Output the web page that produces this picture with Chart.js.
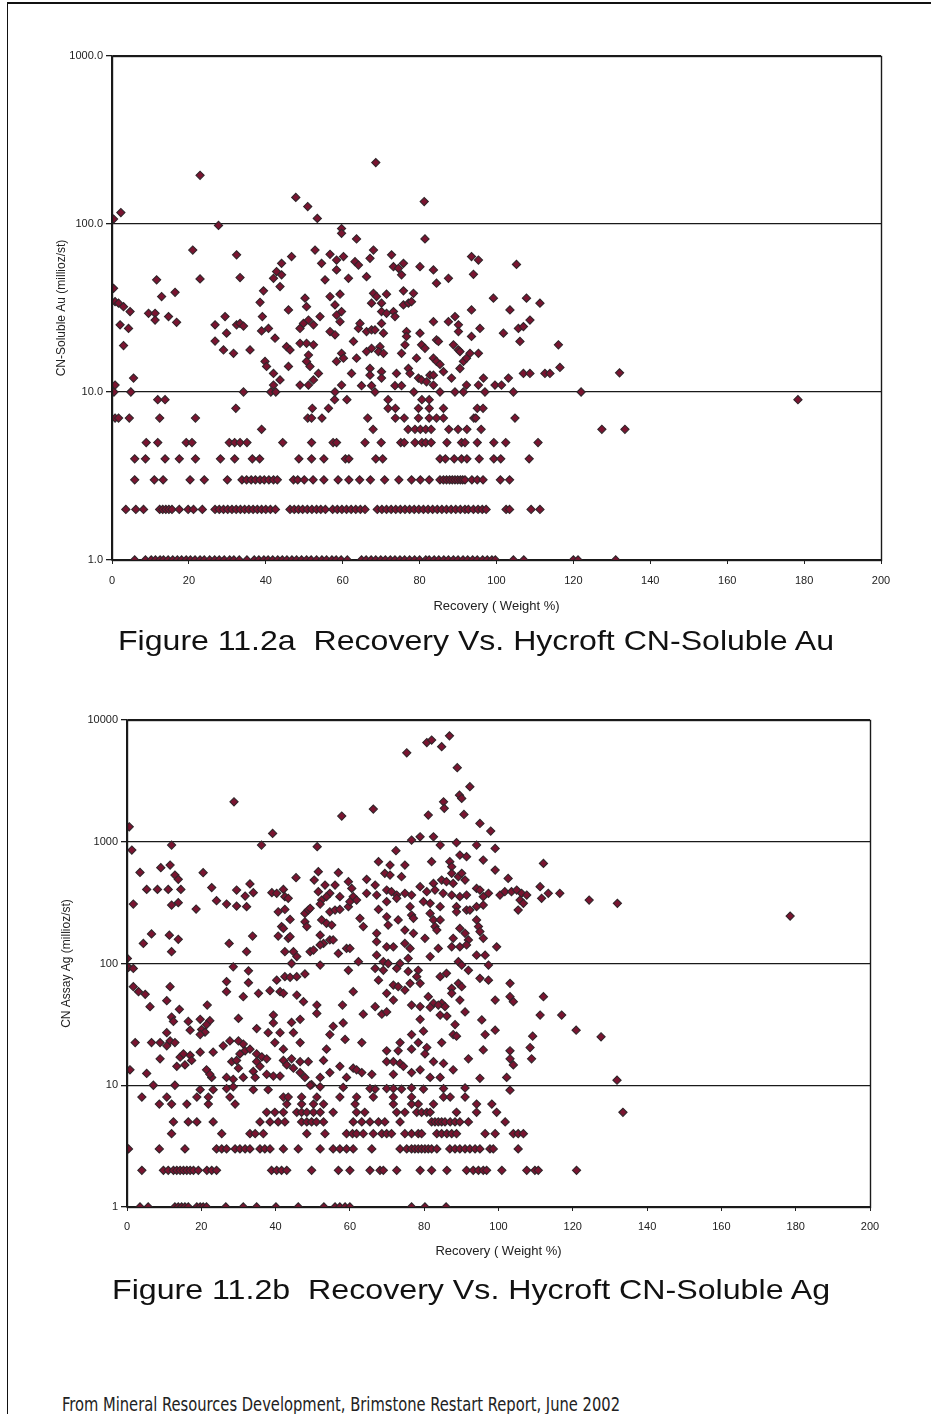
<!DOCTYPE html>
<html>
<head>
<meta charset="utf-8">
<script src="https://cdn.jsdelivr.net/npm/chart.js@4.4.0/dist/chart.umd.min.js"></script>
<style>
  html, body { margin: 0; padding: 0; background: #fff; }
  body { width: 931px; height: 1414px; position: relative; overflow: hidden; }
  .frame-top { position: absolute; left: 8px; top: 2px; width: 923px; height: 2px; background: #111; }
  .frame-left { position: absolute; left: 7px; top: 2px; width: 1px; height: 1412px; background: #111; }
  canvas { position: absolute; }
  .fit { position: absolute; white-space: nowrap; transform-origin: 0 50%; color: #111; line-height: 1; }
  .caption { font-family: "Liberation Sans", Arial, sans-serif; font-size: 28px; }
  .source { font-family: "Liberation Sans Narrow", "DejaVu Sans Condensed", "Liberation Sans", sans-serif; font-size: 19px; color: #222; }
</style>
</head>
<body>
<div class="frame-top"></div>
<div class="frame-left"></div>

<canvas id="auChart" width="931" height="600" style="left:0;top:30px"></canvas>
<canvas id="agChart" width="931" height="575" style="left:0;top:700px"></canvas>

<div class="fit caption" data-left="118" data-width="716" data-mid="641">Figure 11.2a&nbsp; Recovery Vs. Hycroft CN-Soluble Au</div>
<div class="fit caption" data-left="112" data-width="718" data-mid="1290">Figure 11.2b&nbsp; Recovery Vs. Hycroft CN-Soluble Ag</div>
<div class="fit source" data-left="62" data-width="558" data-mid="1404">From Mineral Resources Development, Brimstone Restart Report, June 2002</div>

<script>
// ---------- Figure 11.2a : CN-soluble Au (millioz/st) vs recovery (weight %) ----------
// Assays reported at whole-number grades fall on horizontal rows.
const auGrades = [1, 2, 3, 4, 5, 6, 7, 8, 9, 10];
const auRecoveryAtGrade = [
  // 1
  [5.9, 8.7, 10.2, 11.3, 12.5, 13.4, 14.6, 15.8, 17, 18.1, 19.3, 20.4, 21.6, 22.9, 24, 25.4, 26.7, 27.9, 29.2, 30.6, 31.7, 33.1, 35.1, 37, 38.2, 39.5, 40.6, 41.8, 43.1, 44.3, 45.5, 46.8, 48, 49.3, 50.6, 51.8, 53.2, 54.6, 55.8, 57.2, 58.3, 59.6, 61.2, 64.9, 66.1, 67.4, 68.6, 69.9, 71.1, 72.4, 73.6, 74.9, 76.1, 77.4, 78.7, 80, 81.6, 82.5, 83.8, 85, 86.3, 87.5, 88.8, 90, 91.3, 92.5, 93.8, 95, 96.4, 97.6, 98.8, 99.7, 104.4, 107.1, 120, 121.2, 131],
  // 2
  [3.6, 6.2, 8.2, 12.4, 13.2, 14, 14.8, 15.6, 17.5, 19.8, 21.2, 23.5, 26.8, 27.9, 29, 30.1, 31.2, 32.3, 33.4, 34.5, 35.6, 36.7, 37.8, 38.9, 40, 41.2, 42.5, 46.3, 47.4, 48.5, 49.6, 50.8, 52, 53.2, 54.3, 55.5, 57.4, 58.6, 59.8, 61, 62.2, 63.4, 64.6, 65.8, 69, 70.2, 71.4, 72.6, 73.8, 75, 76.2, 77.4, 78.6, 79.8, 81, 82.2, 83.4, 84.6, 85.8, 87, 88.2, 89.4, 90.6, 91.8, 92.7, 94, 95.2, 96.3, 97.3, 102.5, 103.4, 109, 111.3],
  // 3
  [5.9, 11, 13.3, 20.3, 24, 30, 33.8, 35, 36.2, 37.3, 38.5, 39.6, 40.8, 42, 43, 47.2, 48.3, 50, 52.3, 55.1, 58.8, 61.6, 64.4, 67.2, 70.9, 74.6, 77.9, 80.2, 82.5, 85.3, 86.2, 87, 87.8, 88.5, 89.2, 89.9, 90.6, 91.2, 91.8, 93.6, 95, 96.5, 101, 103.4],
  // 4
  [5.9, 8.7, 13.8, 17.5, 21.7, 28.2, 31.9, 36.5, 38.4, 48.6, 51.9, 55.1, 60.7, 61.6, 68.6, 70.4, 85.3, 86.7, 89, 90.9, 92.3, 95.5, 99.3, 101.1, 108.5],
  // 5
  [8.9, 11.9, 19.3, 20.8, 30.5, 31.9, 33.3, 35.1, 44.4, 51.9, 57.5, 58.4, 65.8, 70, 75.1, 76, 78.8, 80.6, 81.6, 83, 87.1, 90.9, 91.8, 95, 99.3, 102.4, 110.8],
  // 6
  [38.9, 67.9, 77, 78.8, 80.2, 81.6, 83, 87.6, 90, 92.3, 96, 127.4, 133.4],
  // 7
  [0.8, 1.7, 4.5, 12.4, 21.7, 50.9, 51.9, 54.6, 66.5, 73.7, 76, 79.7, 82.5, 84.4, 86.2, 94.1, 94.6, 104.8],
  // 8
  [32.2, 52.1, 56.3, 71.8, 73.7, 79.7, 82.5, 86.2, 95, 96.5],
  // 9
  [11.9, 13.8, 57.9, 61.1, 71.8, 80.6, 82.5, 178.4],
  // 10
  [0.5, 4.9, 34.2, 41.3, 42.6, 58, 68.4, 78.5, 85.3, 89.2, 91.4, 97, 104.4, 122]
];
// Remaining Au samples as [recovery %, Au millioz/st]
const auScatter = [
  [2.3,117],[22.9,195],[47.8,144],[50.9,127],[53.4,108],[68.6,232],[81.2,136],
  [0.4,107],[27.7,98],[59.7,94],[59.7,88],[63.6,81.5],[81.4,81.5],[21,70],[32.4,65.5],[46.7,64],[44.1,58.3],[52.8,70],[54.5,58.3],[56.7,66],[58.4,61],[60.2,64],[58.4,53.3],[61.5,47.5],[63.2,59.7],[64.1,57],[68,70],[67.1,62.5],[72.7,65.5],[73.2,55.7],[74.5,54.5],[75.8,58.3],[75.3,49.8],[80.1,55.7],[83.6,53.3],[84.4,44.4],[87.5,47.5],[93.5,64],[95.3,61],[94,50.2],[105.2,57.5],
  [0.4,41.4],[0.8,34.5],[1.7,33.8],[3,32.2],[4.7,30.1],[2.1,25.1],[4.3,23.9],[3,18.9],[9.5,29.4],[11.2,29.4],[11.2,26.8],[14.7,28.1],[16.8,26],[11.6,46.5],[12.9,37],[16.4,39.2],[22.9,47.1],[33.3,48],[42.8,52.1],[42,47.5],[44.1,49.8],[43.7,42.4],[39.4,40],[38.5,34.2],[39.1,28.1],[45.9,30.8],
  [26.8,25.1],[29.4,28.1],[29.8,22.4],[26.8,20.1],[29,17.8],[32.4,25.1],[33.3,25.6],[34.2,24.7],[31.6,17],[35.9,17.8],[38.9,23.1],[40.7,23.9],[42.4,20.9],[45.4,18.6],[46.3,17.8],[39.8,15.2],[40.2,14.2],[42,12.9],[43.7,11.8],[42,11],[45.9,14.2],
  [48.9,23.9],[49.8,25.6],[51.1,26.8],[52.4,25.1],[54.1,28.1],[50.2,36.2],[50.6,32.2],[48.9,19.5],[50.6,19.5],[52.4,19.1],[51.1,16.6],[50.6,15.2],[51.5,14.2],[53.7,12.9],[52.4,11.8],[51.1,11],[48.9,11],
  [55.4,46.5],[56.7,37],[59.3,38.2],[56.7,22.9],[58,21.9],[59.3,26.2],[59.7,30.1],[58,33],[58.4,28.7],[62.8,20],[64.1,23.9],[64.5,25.6],[59.7,17],[60.2,15.9],[58.4,15.2],[59.7,11],[62.3,12.9],
  [66.2,48.6],[68,38.7],[68.8,37],[71.4,38.2],[67.5,33.8],[70.1,33.8],[70.1,30.1],[73.2,30.1],[73.6,28.1],[71.4,29.4],[66.2,22.9],[67.5,23.4],[68.4,23.4],[70.1,25.6],[70.6,22.4],[66.2,17.4],[67.5,18.2],[69.7,18.6],[69.3,17.4],[70.6,17],[63.6,15.9],[67.1,13.8],[67.1,12.6],[70.1,13.2],[70.1,12.1],[64.9,10.9],[67.5,10.9],
  [75.8,40],[78.4,38.7],[75.8,33],[77.1,33.8],[77.9,34.5],[76.6,22.9],[76.6,21.4],[76.2,19.1],[75.3,17],[79.2,15.9],[80.1,22.4],[80.5,19.1],[81.4,18.2],[74,12.9],[73.6,10.9],[75.3,10.9],[77.1,13.8],[77.5,12.9],[79.7,12.1],[80.5,11.8],
  [83.6,26.2],[87.5,26.2],[90.1,25.1],[89.2,28.1],[90.1,22.9],[84.4,20.4],[84.9,20],[83.6,15.9],[84.4,15.2],[85.3,14.6],[82.7,12.6],[83.6,12.6],[81.8,11.5],[83.6,11],[88.8,19.1],[90.1,17.8],[90.5,17.4],[86.2,13.2],[88.3,12.1],[90.5,13.8],[91.4,15.2],[92.2,15.9],[93.5,21.4],[93.5,30.8],[95.7,23.9],[93.1,17],[95.3,17],[92.2,11],[95.3,11],[96.6,12.1],
  [99.2,36.2],[103.5,30.8],[107.8,36.2],[111.3,33.8],[108.7,26.8],[105.7,23.9],[107,24.5],[101.8,22.4],[106.1,20],[99.6,11],[101.3,11],[103.1,12.1],[107,12.9],[108.7,12.9],[112.6,12.9],[113.9,12.9],[116.1,19.1],[116.5,14],
  [0.8,11],[5.6,12.1],[132,13]
];
const auDecades = [1, 10, 100, 1000];

// ---------- Figure 11.2b : CN assay Ag (millioz/st) vs recovery (weight %) ----------
const agGrades = [1, 2, 3, 4, 5, 6, 7, 8];
const agRecoveryAtGrade = [
  // 1
  [3.5, 5.7, 12.9, 13.8, 14.7, 15.6, 16.5, 18.8, 19.7, 20.5, 21.4, 26.6, 31.3, 34.9, 40.1, 46.1, 53, 56, 57.3, 58.7, 60, 76.6, 80.2, 85.9],
  // 2
  [4, 9.8, 11.1, 12.5, 13.4, 14.3, 15.2, 16.1, 17, 17.9, 19.2, 21.5, 22.8, 24.1, 38.9, 40.3, 41.6, 43, 49.7, 56.9, 60, 65.4, 68.1, 69, 72.6, 78.9, 82, 86.1, 91.4, 93.2, 94.6, 95.9, 96.8, 100.9, 107.6, 109.8, 110.7, 121],
  // 3
  [0.4, 8.7, 15.6, 24.1, 25.5, 26.8, 29.1, 30.4, 31.8, 33.1, 35.8, 37.1, 38.5, 42.1, 46.1, 52, 55.5, 57.3, 59.1, 60.9, 65.9, 73.5, 75.3, 76.6, 77.5, 78.4, 79.3, 80.2, 81.1, 82, 83.4, 86.9, 88.3, 89.6, 91, 92.3, 93.7, 95, 97.7, 98.6, 105.3],
  // 4
  [12, 25.5, 33.1, 34.5, 36.7, 48.4, 53.3, 59.1, 60.7, 61.8, 63.6, 66.3, 68.6, 69.9, 71.2, 74.8, 76.6, 78.4, 79.3, 83.4, 84.7, 86.1, 87.4, 88.7, 96.4, 99.1, 104, 105.3, 106.7],
  // 5
  [12.5, 16.5, 18.8, 23.2, 35.8, 38.5, 40.7, 42.5, 47, 48.4, 49.7, 51, 52.9, 60.9, 63.2, 65.4, 67.7, 69.4, 73.5, 82, 82.9, 83.8, 84.7, 85.6, 87, 88.3, 89.6, 91.9, 101.8],
  // 6
  [37.6, 39.8, 42.1, 45.7, 47, 48.4, 50.2, 52, 55.5, 61.8, 64, 72.6, 74.8, 78, 79.3, 80.7, 81.6, 88.7, 94.1, 99.5, 133.5],
  // 7
  [8.7, 12, 16.1, 21.9, 29.1, 43, 47, 50.2, 52.9, 61.4, 71.7, 76.6, 78.4, 82.5, 94.1, 98.2],
  // 8
  [4, 10.7, 18.8, 21.9, 27.7, 42.1, 43.4, 47, 51.1, 57.3, 61.8, 66.3, 71.7, 76.6, 85.2, 87, 91]
];
// Remaining Ag samples as [recovery %, Ag millioz/st]
const agScatter = [
  [0.6,1327],[1.3,855],[28.8,2128],[39.2,1170],[36.2,940],[12,940],[57.8,1625],[66.3,1854],[51.2,910],[75.3,5380],[80.7,6530],[82,6840],[84.7,6030],[86.8,7410],[88.9,4055],[92.3,2830],[89.5,2415],[90.1,2270],[85.2,2128],[85.4,1880],[81.1,1656],[90.7,1675],[95,1413],[97.9,1224],[78.9,1099],[82.5,1099],[76.6,1033],[84.3,940],[88.7,982],[94.1,940],[99.1,881],[178.5,245],[124.4,332],[132,312],[127.6,25],[131.9,11],
  [3.5,560],[9.1,612],[11.6,644],[12.9,533],[13.8,491],[20.5,557],[45.5,507],[50.4,485],[51.5,568],[56.9,557],[59.6,470],[67.7,686],[64.5,491],[66.8,441],
  [5.3,406],[8.2,406],[11.1,406],[14.5,406],[22.8,420],[29.5,401],[33.1,450],[34,382],[31.8,358],[39,382],[40.3,377],[42.1,406],[42.5,354],[43.4,343],[51.5,389],[52.4,332],[53.3,441],[54.6,377],[56,441],[53.7,354],[57.3,354],[60.5,414],[60.9,354],[61.8,332],[64.5,377],[67.2,365],
  [1.7,308],[12,302],[13.8,316],[18.6,280],[24.1,328],[26.8,308],[29.5,296],[32.2,293],[40.7,266],[42.5,278],[43.9,230],[47.9,258],[48.8,275],[49.3,284],[47.9,220],[48.4,201],[52,308],[54.6,266],[56,275],[57.3,278],[59.6,293],[60,322],[62.7,235],[63.6,201],[67.7,278],
  [41.6,201],[42.1,194],[43.4,161],[43.9,166],[52.4,228],[53.7,214],[55.1,207],[52,171],[52.9,146],[54.6,156],[55.5,156],
  [6.6,175],[11.4,171],[13.8,158],[4.4,146],[12,125],[27.5,146],[33.8,168],[32.2,125],[40.7,168],
  [42.5,125],[44.8,125],[45.7,114],[49.3,125],[50.2,129],[52,142],[56.9,121],[59.1,133],[60,133],[67.2,177],[67.2,151],[67.2,117],
  [0.1,110],[0.4,93],[1.7,91],[44.3,100],[52,97],[62.3,103.5],[66.8,91],[28.6,94],[32.7,87],[26.8,71],[32.7,69.6],[40.3,73],[42.5,78],[43.9,77],[45.7,78],[47.9,82],[59.6,88],[67.7,73],
  [1.7,64.5],[3.1,58.7],[4.9,55.8],[11.6,64.5],[10.7,49.5],[26.8,58.7],[31.3,53.4],[35.4,56.9],[38.5,59.8],[41.2,58.7],[42.1,56.9],[45.7,55.1],[47.5,48.6],[51.1,45.6],[58,45.6],[60.9,58.7],
  [6.2,44.2],[14.1,42],[21.6,45.6],[66.8,44.2],
  [72.4,844],[70.8,644],[74.8,644],[82,686],[86.9,686],[87.4,624],[89.6,778],[91.4,754],[95.9,708],[99.1,586],[102.6,500],[112.1,664],
  [69.4,550],[70.8,533],[73.9,516],[87.4,550],[89.2,516],[90.1,550],[91,485],[84.7,485],[82.5,455],[86,470],[87.8,455],
  [69.9,401],[71.2,389],[72.6,365],[74.8,377],[76.6,365],[78.9,427],[80.7,389],[82.9,401],[85.1,377],[87.4,365],[89.6,354],[91.4,365],[94.1,414],[95,401],[95.9,354],[97.3,377],
  [100.4,365],[101.7,389],[103.5,389],[104.9,401],[106.2,377],[107.6,365],[111.2,427],[113.4,377],[116.5,377],[111.6,343],[105.8,332],[106.7,312],[105.3,275],
  [69.9,322],[72.6,343],[76.2,293],[79.8,322],[81.6,312],[84.3,293],[88.7,293],[91.4,275],[94.1,293],[95.9,302],
  [69.9,242],[73,228],[76.6,250],[77.1,235],[81.6,258],[82.5,228],[84.3,228],[88.7,266],[92.3,275],[94.1,228],[94.6,201],
  [70.3,207],[74.8,188],[77.1,177],[80.2,161],[82.9,201],[83.4,188],[89.6,194],[87.8,161],[91,177],[91.9,156],[95,183],[95.9,161],
  [69.9,137],[71.7,137],[74.8,146],[76.2,133],[81.6,114],[83.8,133],[87.4,137],[89.6,137],[91.4,142],[94.1,117],[96.4,117],[99.5,137],
  [69,103.5],[70.3,100],[73.5,100],[75.7,110],[89.2,103.5],[90.1,97],[97.3,97],
  [69,88],[72.6,91],[75.7,86],[78.4,88],[78,78],[84.3,78],[86,83],[91.9,88],[95,75.5],[97.3,73],
  [71.7,66.5],[73,64.5],[69.9,56.9],[74.8,60.5],[76.2,68.7],[78.9,68.7],[87.4,62.5],[89.2,68.7],[90.1,64.5],[103.1,68.7],
  [71.7,50.1],[76.6,45.6],[81.1,53.4],[82.5,47.1],[84.7,47.1],[87.4,56.9],[89.6,50.1],[99.1,50.1],[103.1,53.4],[104,48.6],[112.1,53.4],
  [12,36.3],[12.5,33.4],[16.5,33.4],[19.7,34.8],[22.3,33.9],[17,28.3],[20.1,28.7],[21,27.3],[19.7,26.1],[21.4,31.5],
  [2.2,22.4],[6.6,22.4],[8.9,22.4],[10.7,27],[11.6,23.1],[12.9,22.4],[10.7,21.1],[8.9,16.5],[14.3,17],[15.2,18.1],[17,17.6],[19.7,18.7],[17.4,16],[15.6,14.7],[13.4,14.3],[21.4,13.4],[23.2,18.7],
  [0.8,13.4],[5.3,12.5],[22.8,11.6],[22.3,12.3],
  [30,35.4],[39.4,37.7],[39.4,32.5],[34.9,29.2],[38,27],[41.2,27],[44.3,32.8],[46.6,34.8],[44.8,27],[46.6,22.4],[51.1,38.9],[58.2,32.5],[55.5,30.5],[54.6,26.1],[58.7,23.8],
  [25.9,21.1],[27.7,23.1],[30,23.1],[31.3,21.8],[31.8,19.2],[33.1,19.8],[34.9,18.1],[36.3,17.1],[37.6,16.5],[30.4,18.1],[28.2,15.6],[29.5,16],[30,13.8],[34.9,15.6],[34,13],[35.8,14.3],[39.8,22.4],[42.1,19.8],[42.1,16],[44.3,16.5],[46.6,15.6],[48.8,15.6],[53.7,19.8],[52.9,16],[57.3,14.3],[60.9,13.8],
  [26.8,11.6],[28.6,11.2],[31.3,11.6],[34.5,11.6],[37.6,12.3],[39.4,11.9],[41.2,11.9],[43,14.7],[44.8,13.8],[46.6,12.7],[47.9,11.6],[49.7,10.1],[52,11.6],[54.6,12.7],[59.1,11.6],
  [7.1,10],[12.9,10],[19.7,9.2],[23.2,9.2],[26.8,9.4],[28.6,9.7],[34,9.2],[38,9.2],[49.3,10],[52,9.7],[58.2,9.6],
  [78.9,44.3],[81.6,43.7],[83.8,45.6],[85.6,44.3],[63.6,38.3],[68.6,38.3],[69.9,40],[78.9,34.8],[84.3,37.7],[86.1,37],[91,40],[88.3,31.5],[87.8,26.1],[88.7,25.3],[95.5,34.4],[99.1,28.3],[96.4,26.1],[111.2,37.7],[117,37.7],[120.9,28.3],[109.2,25.3],
  [63.2,22.4],[69.9,19.2],[73,19.2],[73.5,22.4],[76.6,26.1],[78.4,22.4],[79.8,27.8],[80.7,20.4],[80.2,18.1],[84.7,22.4],[76.6,19.8],[95.9,19.5],[103.1,19.2],[108.5,20.4],[108.9,16.5],[91.9,16.5],[103.1,16.5],[104,14.7],
  [61.8,13.4],[63.2,12.7],[65.9,12.3],[69.9,15.6],[71.7,15.6],[73.5,15.1],[74.4,14.3],[71.7,12.3],[76.6,12.7],[78.9,13.4],[82.5,15.6],[85.2,15.1],[87.8,13.4],[81.6,11.6],[84.3,11.6],[95,11.4],[102.2,11.6],
  [65.4,9.4],[66.8,9.3],[69.9,9.4],[71.7,9.4],[73.9,9.3],[76.6,9.5],[79.8,9.3],[85.2,9.4],[91,9.5],[103.1,9.1]
];
const agDecades = [1, 10, 100, 1000, 10000];

const recoveryTicks = { min: 0, max: 200, step: 20 };

// ---------- helpers ----------
function collectPoints(grades, rows, scatter) {
  const pts = [];
  grades.forEach((g, i) => rows[i].forEach(x => pts.push({ x: x, y: g })));
  scatter.forEach(p => pts.push({ x: p[0], y: p[1] }));
  return pts;
}

// outline of the plotting area (right edge closes the box)
const plotBox = {
  id: 'plotBox',
  afterDatasetsDraw(chart) {
    const a = chart.chartArea, ctx = chart.ctx;
    ctx.save();
    ctx.strokeStyle = '#1a1a1a';
    ctx.lineWidth = 1.4;
    ctx.strokeRect(Math.round(a.left) + 0.5, Math.round(a.top) + 0.5,
                   Math.round(a.right - a.left), Math.round(a.bottom - a.top));
    ctx.restore();
  }
};

const FONT = '"Liberation Sans", Arial, sans-serif';

function buildChart(id, pts, o) {
  return new Chart(document.getElementById(id), {
    type: 'scatter',
    data: { datasets: [{
      data: pts,
      pointStyle: 'rectRot',
      pointRadius: 4.1,
      pointBackgroundColor: '#7a1430',
      pointBorderColor: '#30252a',
      pointBorderWidth: 1.1
    }]},
    options: {
      responsive: false,
      animation: false,
      devicePixelRatio: 1,
      layout: { padding: { top: o.padTop, right: o.padRight, left: 0, bottom: 0 } },
      plugins: { legend: { display: false }, tooltip: { enabled: false } },
      scales: {
        x: {
          type: 'linear',
          min: recoveryTicks.min, max: recoveryTicks.max,
          afterFit(s) { s.height = o.xHeight; },
          ticks: { stepSize: recoveryTicks.step, color: '#222', padding: o.xTickPad,
                   font: { family: FONT, size: 11 }, maxRotation: 0 },
          grid: { drawOnChartArea: false, drawTicks: true, tickLength: 4, color: '#222' },
          border: { display: true, color: '#1a1a1a', width: 1.4 },
          title: { display: true, text: 'Recovery ( Weight %)', color: '#222',
                   font: { family: FONT, size: 13 }, padding: { top: 0, bottom: o.xTitlePad } }
        },
        y: {
          type: 'logarithmic',
          min: o.decades[0], max: o.decades[o.decades.length - 1],
          afterFit(s) { s.width = o.yWidth; },
          afterBuildTicks(s) { s.ticks = o.decades.map(v => ({ value: v })); },
          ticks: { color: '#222', padding: 3, font: { family: FONT, size: 11 },
                   callback: o.label },
          grid: { color: '#1a1a1a', lineWidth: 1.3, drawTicks: true, tickLength: 6 },
          border: { display: true, color: '#1a1a1a', width: 1.4 },
          title: { display: true, text: o.yTitle, color: '#222',
                   font: { family: FONT, size: 12 }, padding: { top: o.yTitlePad, bottom: 0 } }
        }
      }
    },
    plugins: [plotBox]
  });
}

buildChart('auChart', collectPoints(auGrades, auRecoveryAtGrade, auScatter), {
  decades: auDecades,
  label: v => Number(v).toFixed(1),
  yTitle: 'CN-Soluble Au (millioz/st)',
  padTop: 26, padRight: 50, xHeight: 70, yWidth: 112,
  xTickPad: 10, xTitlePad: 16, yTitlePad: 54
});

buildChart('agChart', collectPoints(agGrades, agRecoveryAtGrade, agScatter), {
  decades: agDecades,
  label: v => String(v),
  yTitle: 'CN Assay Ag (millioz/st)',
  padTop: 20, padRight: 61, xHeight: 68, yWidth: 127,
  xTickPad: 9, xTitlePad: 16, yTitlePad: 59
});

// fit caption / source lines to their measured widths
document.querySelectorAll('.fit').forEach(el => {
  const w = el.getBoundingClientRect().width;
  const h = el.getBoundingClientRect().height;
  const target = +el.dataset.width;
  el.style.left = el.dataset.left + 'px';
  el.style.top = (+el.dataset.mid - h / 2) + 'px';
  el.style.transform = 'scaleX(' + (target / w).toFixed(4) + ')';
});
</script>
</body>
</html>
